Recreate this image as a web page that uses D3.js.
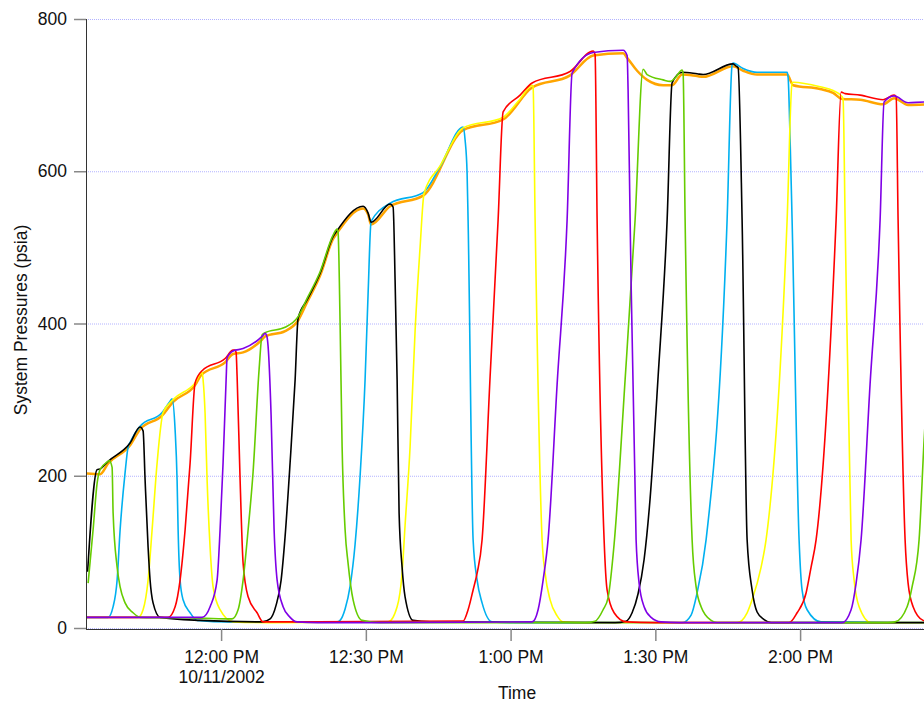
<!DOCTYPE html>
<html>
<head>
<meta charset="utf-8">
<script src="https://cdn.jsdelivr.net/npm/d3@7"></script>
<style>
body { margin: 0; background: #fff; }
svg { display: block; font-family: "Liberation Sans", Arial, sans-serif; }
</style>
</head>
<body>
<script>
// readings: [minutes after 12:00 PM on 10/11/2002, pressure in psia]
var orange = [[-27.98,203],[-25.08,202],[-23.42,216],[-18.86,240],[-16.79,261],[-12.23,279],[-9.95,297],[-5.39,319],[-4.15,332],[0.83,349],[2.49,360],[4.56,362],[8.50,379],[9.12,383],[13.26,390],[15.96,404],[17.82,428],[20.52,463],[23.21,511],[24.04,519],[29.43,551],[30.47,543],[31.09,530],[35.03,554],[41.87,568],[50.16,654],[58.45,668],[64.46,710],[72.33,726],[77.10,752],[83.32,755],[84.15,749],[86.22,732],[88.29,720],[91.61,713],[93.47,713],[95.54,727],[98.65,725],[99.90,724],[106.11,738],[108.19,732],[111.09,727],[117.31,727],[118.55,713],[124.15,708],[126.84,703],[128.70,695],[132.44,694],[137.20,688],[139.48,696],[142.38,687],[146.94,688]];

var yellow = [[-27.98,14],[-17.20,14],[-16.17,24],[-15.13,63],[-14.30,129],[-13.26,217],[-12.02,283],[-9.95,300],[-5.39,322],[-3.94,336],[-3.73,326],[-3.32,282],[-2.90,194],[-2.28,106],[-1.66,54],[-0.21,24],[2.49,8],[10,7],[34.61,8],[36.48,28],[37.51,72],[38.13,135],[39.17,238],[40.21,391],[41.24,500],[42.07,571],[45.39,607],[50.16,657],[58.45,671],[61.97,695],[64.46,713],[64.66,711],[65.08,536],[66.53,116],[67.15,72],[68.19,37],[69.64,16],[70.88,8],[75,7],[106.94,7],[109.02,20],[110.05,37],[111.92,80],[112.95,116],[117.31,536],[118.34,716],[118.55,717],[124.15,711],[126.84,706],[128.70,698],[128.91,694],[129.33,536],[130.57,116],[131.19,63],[132.23,28],[134.72,7],[146.94,7]];

var blue = [[-27.98,14],[-23.42,14],[-22.38,28],[-21.55,63],[-20.93,129],[-19.90,204],[-19.27,238],[-18.86,244],[-16.79,265],[-12.23,283],[-10.57,298],[-10.16,301],[-9.53,260],[-9.12,194],[-8.91,129],[-8.50,63],[-7.88,37],[-6.42,20],[-4.97,10],[1.87,8],[24.04,8],[24.66,10],[25.70,25],[26.74,55],[27.77,110],[28.81,200],[29.84,326],[30.47,440],[31.09,534],[35.03,558],[41.87,572],[45.39,606],[50.16,658],[50.57,641],[50.98,598],[51.19,536],[52.23,116],[53.06,63],[54.09,33],[56.17,8],[60,7],[95.54,7],[97.41,17],[98.65,46],[100.52,116],[104.87,536],[105.91,740],[106.11,742],[108.19,735],[111.09,730],[117.31,730],[117.51,724],[117.93,641],[118.34,536],[119.79,116],[120.41,50],[121.45,24],[124.35,8],[146.94,7]];

var black = [[-27.67,74],[-25.70,208],[-25.08,209],[-23.42,219],[-18.86,243],[-16.79,264],[-16.17,259],[-15.75,194],[-15.13,106],[-14.72,63],[-14.10,33],[-12.64,14],[-4.35,10],[8.50,8],[10.16,12],[11.40,30],[12.44,63],[13.26,120],[14.30,217],[15.34,326],[15.96,407],[17.82,431],[20.52,466],[23.21,514],[24.04,522],[29.43,554],[30.47,545],[31.09,533],[35.03,557],[35.65,553],[36.06,457],[36.48,326],[36.89,151],[37.51,80],[38.13,41],[39.79,10],[43.30,8],[81.66,7],[83.94,9],[85.18,20],[86.42,45],[87.67,90],[88.91,170],[90.57,330],[92.44,536],[93.47,716],[95.54,730],[98.65,728],[99.90,727],[106.11,741],[106.74,738],[107.15,736],[107.98,536],[109.02,116],[110.05,50],[111.09,21],[112.54,11],[113.99,7],[146.94,7]];

var red = [[-27.98,14],[-10.98,14],[-9.53,28],[-8.50,63],[-7.46,129],[-6.42,217],[-5.39,322],[-3.94,338],[0.83,354],[2.49,365],[2.90,365],[3.11,362],[3.32,330],[3.94,194],[4.56,85],[5.60,41],[7.46,20],[8.70,8],[20,8],[50.16,9],[51.19,24],[52.23,50],[53.06,72],[54.09,116],[55.75,330],[57.41,536],[58.45,678],[61.97,700],[64.46,716],[72.33,731],[77.10,758],[77.51,753],[77.93,536],[79.38,116],[80.00,50],[81.45,20],[83.94,8],[90,7],[117.72,7],[119.38,20],[121.24,46],[122.28,80],[123.32,116],[127.46,536],[128.50,704],[129.33,702],[132.44,700],[137.20,694],[139.48,700],[139.90,698],[140.31,536],[141.76,116],[142.38,59],[143.42,28],[145.49,10],[146.94,8]];

var green = [[-27.56,59],[-26.53,129],[-25.70,190],[-25.08,208],[-23.42,219],[-23.21,220],[-22.59,211],[-22.38,151],[-21.55,80],[-20.93,54],[-19.90,33],[-18.24,20],[-16.79,14],[-4.35,13],[2.28,12],[3.52,24],[4.56,63],[5.60,129],[6.63,205],[7.88,340],[8.50,385],[9.12,388],[13.26,395],[15.96,409],[17.82,433],[20.52,468],[23.21,516],[24.04,524],[24.25,519],[24.66,401],[25.08,238],[25.70,129],[26.32,85],[27.36,37],[29.22,10],[33,7],[75.44,7],[77.51,9],[79.17,24],[80.21,40],[81.45,110],[83.73,326],[85.80,536],[87.46,734],[88.29,727],[91.61,720],[93.06,718],[94.30,724],[95.54,733],[95.75,729],[96.17,536],[97.62,116],[98.45,54],[99.48,28],[101.55,10],[102.80,7],[138.03,7],[139.69,8],[142.18,28],[143.21,54],[144.66,116],[145.70,247],[146.94,380]];

var purple = [[-27.98,14],[-3.94,14],[-2.28,28],[-0.83,63],[-0.21,129],[0.41,217],[1.04,326],[1.24,355],[2.49,364],[4.56,367],[8.50,383],[9.12,387],[9.53,382],[9.74,370],[10.36,280],[10.98,130],[11.61,63],[12.85,28],[14.30,14],[15.75,8],[20,7],[64.46,8],[65.70,24],[66.74,63],[67.77,116],[69.64,320],[71.71,536],[72.75,729],[77.10,756],[83.32,759],[84.15,752],[84.35,707],[84.77,536],[86.01,116],[86.63,59],[87.67,28],[89.12,14],[91.19,8],[95,7],[128.70,7],[130.57,24],[131.61,59],[132.64,116],[134.50,320],[136.58,536],[137.41,691],[139.48,699],[142.38,690],[145.70,691],[146.94,690]];

// drawing order: later series sit on top
var seriesNames = ["orange", "blue", "yellow", "black", "red", "green", "purple"];
var seriesData = [orange, blue, yellow, black, red, green, purple];
var seriesColors = ["#ffa500", "#00b0f0", "#ffff00", "#000000", "#ff0000", "#66cc00", "#7f00e6"];

var yTicks = [0, 200, 400, 600, 800];
var xTickLabels = ["12:00 PM", "12:30 PM", "1:00 PM", "1:30 PM", "2:00 PM"];
var dateLabel = "10/11/2002";

var noon = new Date(2002, 9, 11, 12, 0, 0);
function at(m) { return new Date(noon.getTime() + m * 60000); }

var w = 924, h = 702;
var plotLeft = 86, plotTop = 19, plotBottom = 628;

var svg = d3.select("body").append("svg")
	.attr("width", w)
	.attr("height", h);

var x = d3.scaleTime()
	.domain([at(-28), at(150)])
	.range([plotLeft, plotLeft + 178 * 4.825]);

var y = d3.scaleLinear()
	.domain([0, 800])
	.range([plotBottom, plotTop]);

// dotted grid
svg.append("g").selectAll("line")
	.data(yTicks)
	.enter().append("line")
	.attr("x1", plotLeft).attr("x2", w)
	.attr("y1", function (d) { return y(d) + 0.5; })
	.attr("y2", function (d) { return y(d) + 0.5; })
	.attr("stroke", "#b2b2ff")
	.attr("stroke-dasharray", "1,1");

// series
svg.append("clipPath").attr("id", "plot")
	.append("rect").attr("x", plotLeft + 1).attr("y", 0).attr("width", w).attr("height", plotBottom + 2);

var line = d3.line()
	.x(function (d) { return x(at(d[0])); })
	.y(function (d) { return y(d[1]); })
	.curve(d3.curveMonotoneX);

svg.append("g").attr("clip-path", "url(#plot)")
	.selectAll("path")
	.data(seriesData)
	.enter().append("path")
	.attr("class", function (d, i) { return "series " + seriesNames[i]; })
	.attr("d", line)
	.attr("fill", "none")
	.attr("stroke", function (d, i) { return seriesColors[i]; })
	.attr("stroke-width", function (d, i) { return i === 0 ? 2.5 : 1.6; })
	.attr("stroke-linejoin", "round");

// axes
var parseTick = d3.timeParse("%Y-%m-%d %I:%M %p");
var xTicks = xTickLabels.map(function (s) { return parseTick("2002-10-11 " + s); });

var xAxis = d3.axisBottom(x)
	.tickValues(xTicks)
	.tickSize(12)
	.tickSizeOuter(0)
	.tickPadding(10)
	.tickFormat(function (d, i) { return xTickLabels[i]; });

var gx = svg.append("g")
	.attr("transform", "translate(0," + (plotBottom + 1) + ")")
	.call(xAxis);

var yAxis = d3.axisLeft(y)
	.tickValues(yTicks)
	.tickSize(12)
	.tickSizeOuter(0)
	.tickPadding(7);

var gy = svg.append("g")
	.attr("transform", "translate(" + plotLeft + ",0)")
	.call(yAxis);

gy.select(".domain").attr("d", "M0.5," + plotTop + "V" + (plotBottom + 1.5));
gx.select(".domain").attr("d", "M" + plotLeft + ",0.5H" + w);

svg.selectAll(".domain").attr("stroke", "#333").attr("stroke-width", 1);
svg.selectAll(".tick line").attr("stroke", "#888").attr("stroke-width", 1.5);
svg.selectAll(".tick text")
	.attr("fill", "#111")
	.style("font-size", "17.5px")
	.style("font-family", "'Liberation Sans', Arial, sans-serif");

gx.selectAll(".tick").filter(function (d, i) { return i === 0; })
	.append("text")
	.attr("y", 12 + 10)
	.attr("dy", "1.8em")
	.attr("fill", "#111")
	.attr("text-anchor", "middle")
	.style("font-size", "17.5px")
	.text(dateLabel);

// titles
svg.append("text")
	.attr("x", 517)
	.attr("y", 699)
	.attr("text-anchor", "middle")
	.style("font-size", "17.5px")
	.attr("fill", "#111")
	.text("Time");

svg.append("text")
	.attr("transform", "translate(27,320) rotate(-90)")
	.attr("text-anchor", "middle")
	.style("font-size", "17.5px")
	.attr("fill", "#111")
	.text("System Pressures (psia)");
</script>
</body>
</html>
